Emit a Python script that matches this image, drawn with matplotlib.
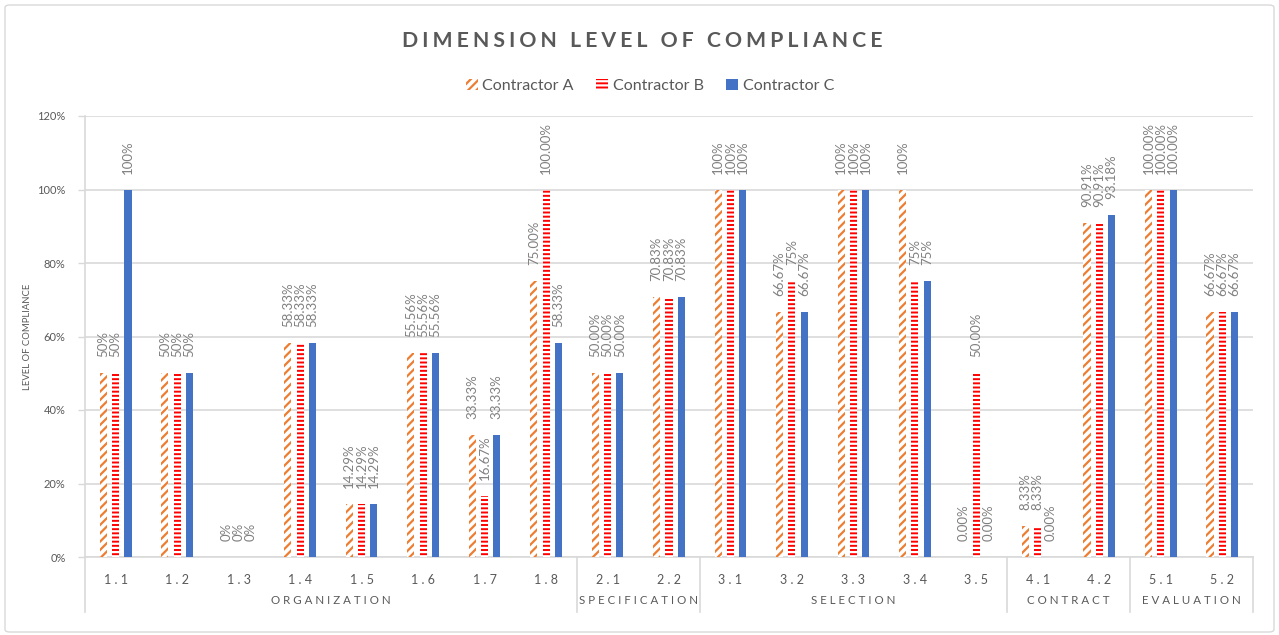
import matplotlib
matplotlib.use("Agg")
import matplotlib.pyplot as plt
import matplotlib.transforms as mtransforms
from matplotlib.patches import FancyBboxPatch
import numpy as np

plt.rcParams['font.family'] = ['Lato', 'DejaVu Sans']
plt.rcParams['hatch.linewidth'] = 1.6

categories = ["1.1", "1.2", "1.3", "1.4", "1.5", "1.6", "1.7", "1.8",
              "2.1", "2.2", "3.1", "3.2", "3.3", "3.4", "3.5",
              "4.1", "4.2", "5.1", "5.2"]
groups = ["ORGANIZATION", "SPECIFICATION", "SELECTION", "CONTRACT", "EVALUATION"]
group_sizes = [8, 2, 5, 2, 2]

series_names = ["Contractor A", "Contractor B", "Contractor C"]
values_a = [0.50, 0.50, 0.0, 0.5833, 0.1429, 0.5556, 0.3333, 0.75, 0.50, 0.7083,
            1.0, 0.6667, 1.0, 1.0, 0.0, 0.0833, 0.9091, 1.0, 0.6667]
values_b = [0.50, 0.50, 0.0, 0.5833, 0.1429, 0.5556, 0.1667, 1.0, 0.50, 0.7083,
            1.0, 0.75, 1.0, 0.75, 0.50, 0.0833, 0.9091, 1.0, 0.6667]
values_c = [1.0, 0.50, 0.0, 0.5833, 0.1429, 0.5556, 0.3333, 0.5833, 0.50, 0.7083,
            1.0, 0.6667, 1.0, 0.75, 0.0, 0.0, 0.9318, 1.0, 0.6667]

labels_a = ["50%", "50%", "0%", "58.33%", "14.29%", "55.56%", "33.33%", "75.00%",
            "50.00%", "70.83%", "100%", "66.67%", "100%", "100%", "0.00%",
            "8.33%", "90.91%", "100.00%", "66.67%"]
labels_b = ["50%", "50%", "0%", "58.33%", "14.29%", "55.56%", "16.67%", "100.00%",
            "50.00%", "70.83%", "100%", "75%", "100%", "75%", "50.00%",
            "8.33%", "90.91%", "100.00%", "66.67%"]
labels_c = ["100%", "50%", "0%", "58.33%", "14.29%", "55.56%", "33.33%", "58.33%",
            "50.00%", "70.83%", "100%", "66.67%", "100%", "75%", "0.00%",
            "0.00%", "93.18%", "100.00%", "66.67%"]

yticks = [0, 0.2, 0.4, 0.6, 0.8, 1.0, 1.2]
ytick_labels = ["0%", "20%", "40%", "60%", "80%", "100%", "120%"]

ORANGE = "#ED7D31"
RED = "#FF0000"
BLUE = "#4472C4"
TXT = "#595959"
LBL = "#808080"
GRID = "#D9D9D9"

W, H = 1279, 635
fig = plt.figure(figsize=(W / 100, H / 100), dpi=100)
ax = fig.add_axes([85 / W, 1 - 557 / H, (1253 - 85) / W, (557 - 116) / H])

x = np.arange(len(categories))
bw = 0.115
off = 0.2
styles = [
    dict(facecolor="white", edgecolor=ORANGE, hatch="////", linewidth=0),
    dict(facecolor=RED, edgecolor="white", hatch="----", linewidth=0),
    dict(facecolor=BLUE, edgecolor=BLUE, linewidth=0),
]
all_vals = [values_a, values_b, values_c]
all_lbls = [labels_a, labels_b, labels_c]
for k in range(3):
    bars = ax.bar(x + (k - 1) * off, all_vals[k], width=bw, label=series_names[k],
                  zorder=3, **styles[k])
    for b, s in zip(bars, all_lbls[k]):
        ax.annotate(s, (b.get_x() + b.get_width() / 2, b.get_height()),
                    xytext=(0, 16), textcoords="offset pixels",
                    rotation=90, ha="center", va="bottom",
                    fontsize=9.5, color=LBL, zorder=4)

ax.set_xlim(-0.5, len(categories) - 0.5)
ax.set_ylim(0, 1.2)
ax.set_yticks(yticks, ytick_labels)
ax.yaxis.grid(True, color=GRID, linewidth=1.2, zorder=0)
ax.set_axisbelow(True)
for sp in ["top", "right"]:
    ax.spines[sp].set_visible(False)
ax.spines["left"].set_color(GRID)
ax.spines["bottom"].set_color(GRID)
ax.spines["left"].set_linewidth(1.2)
ax.spines["bottom"].set_linewidth(1.2)
ax.tick_params(axis="y", colors=GRID, labelcolor=TXT, labelsize=8, length=5, width=1, pad=9)
ax.set_xticks(x, [" ".join(c) for c in categories])
ax.tick_params(axis="x", length=0, labelcolor=TXT, labelsize=9, pad=12)

# second-level category axis
trans = mtransforms.blended_transform_factory(ax.transData, ax.transAxes)
ax_h = 557 - 116
ylow = -(612 - 557) / ax_h
ygrp = -(601 - 557) / ax_h
bounds = [-0.5]
for n in group_sizes:
    bounds.append(bounds[-1] + n)
for bx in bounds:
    ax.plot([bx, bx], [0, ylow], transform=trans, color=GRID, linewidth=1.2, clip_on=False)
for i, g in enumerate(groups):
    cx = (bounds[i] + bounds[i + 1]) / 2
    ax.text(cx, ygrp, " ".join(g), transform=trans, ha="center", va="center",
            fontsize=8.3, color=TXT)

ax.text(-0.0495, 0.5, "LEVEL OF COMPLIANCE", transform=ax.transAxes, rotation=90,
        ha="center", va="center", fontsize=6.8, color=TXT)

fig.text(642 / W, 1 - 41 / H, "\u2009\u200a".join("DIMENSION LEVEL OF COMPLIANCE"),
         ha="center", va="center", fontsize=15.3, fontweight="bold", color=TXT)

fig.legend(loc="center", bbox_to_anchor=(650 / W, 1 - 86 / H), ncol=3, frameon=False,
           fontsize=11.5, handlelength=0.75, handleheight=0.75, handletextpad=0.3,
           columnspacing=1.4, labelcolor=TXT)

border = FancyBboxPatch((5 / W, 3 / H), (W - 10) / W, (H - 8) / H,
                        boxstyle="round,pad=0,rounding_size=0.004",
                        transform=fig.transFigure, facecolor="none",
                        edgecolor=GRID, linewidth=1)
fig.patches.append(border)

fig.savefig("out.png", dpi=100)
